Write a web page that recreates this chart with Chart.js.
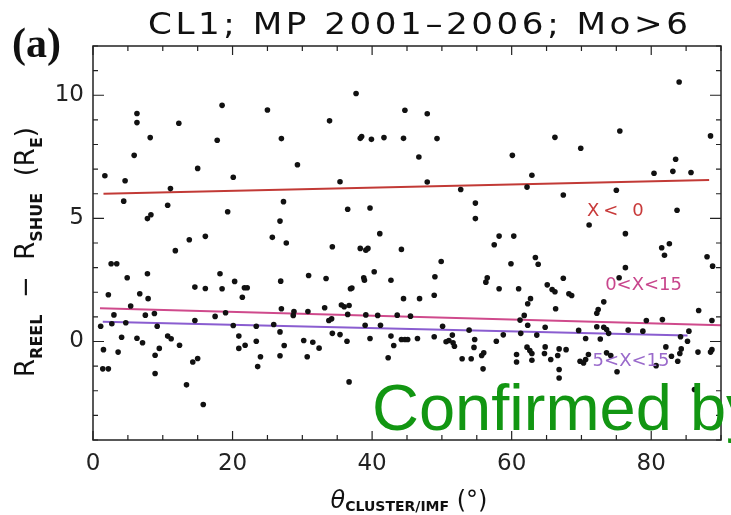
<!DOCTYPE html>
<html>
<head>
<meta charset="utf-8">
<script src="https://cdn.jsdelivr.net/npm/chart.js@4.4.1/dist/chart.umd.min.js"></script>
<style>
  html, body { margin: 0; padding: 0; background: #fff; }
  canvas { display: block; }
</style>
</head>
<body>
<canvas id="grafico" width="731" height="515"></canvas>
<script>
// Ángulo theta (grados) de cada cruce de magnetopausa
const obsTheta = [
  18.5, 6.3, 6.3, 12.3, 8.2, 17.8, 5.9, 15.0, 1.7, 4.6,
  11.1, 4.4, 10.7, 8.3, 7.8, 16.1, 13.8, 11.8, 2.6, 3.4,
  4.9, 7.8, 18.2, 14.6, 16.1, 18.5, 2.2, 6.7, 7.9, 5.4,
  3.0, 7.5, 8.8, 17.5, 1.1, 2.7, 4.7, 9.2, 14.6, 4.1,
  6.3, 7.1, 10.7, 11.2, 12.4, 1.5, 3.6, 9.5, 8.9, 1.4,
  2.2, 8.9, 14.3, 15.0, 13.4, 15.8,
  20.3, 21.4, 21.7, 22.1, 20.9, 20.9, 21.8, 20.1, 19.0,
  25.0, 33.9, 27.0, 29.3, 20.1, 35.4, 27.3, 19.3, 36.5, 26.8, 25.7, 27.7, 34.3,
  26.9, 30.9, 33.4, 36.9, 37.1, 27.0, 28.8, 30.8, 33.2, 35.6,
  36.0, 36.7, 28.7, 33.8, 34.2, 36.5, 23.4, 25.9, 26.8, 34.3,
  35.4, 23.4, 30.2, 31.5, 36.4, 27.4, 32.4, 24.0, 26.8, 30.7,
  23.6, 36.7,
  37.7, 44.7, 47.9, 38.3, 38.5, 39.9, 41.7, 44.5, 49.3, 46.7,
  47.9, 52.7, 39.7, 54.8, 54.8, 41.1, 38.3, 39.1, 39.4, 44.2,
  49.9, 40.3, 38.8, 38.9, 42.7, 49.0, 44.5, 46.8, 48.9, 39.1,
  40.8, 43.6, 45.5, 39.0, 41.2, 50.1, 39.7, 42.7, 43.1, 44.2,
  44.7, 45.1, 46.5, 48.9, 50.6, 51.0, 51.5, 51.6, 51.8, 42.3,
  52.9, 54.2, 53.9, 54.7, 54.6,
  66.2, 60.1, 69.9, 62.9, 62.2, 67.4, 71.1, 58.2, 57.5, 60.3,
  63.4, 59.9, 63.8, 56.5, 56.3, 58.2, 61.0, 67.4, 65.1, 65.8,
  66.2, 68.2, 68.6, 62.7, 62.3, 73.2, 72.4, 72.2, 61.8, 61.2,
  66.3, 62.3, 64.8, 63.6, 58.8, 69.6, 72.2, 73.2, 73.6, 73.9,
  61.3, 57.8, 56.0, 55.7, 55.9, 60.7, 60.7, 62.2, 62.6, 62.9,
  62.9, 64.8, 64.7, 65.6, 66.8, 66.6, 67.8, 66.8, 66.8, 70.6,
  71.0, 70.6, 70.3, 69.8, 72.7,
  84.0, 75.5, 88.5, 83.5, 80.4, 83.1, 85.7, 75.0, 83.7, 76.3,
  81.5, 82.6, 81.9, 88.0, 88.8, 76.3, 75.4, 86.8, 79.3, 81.6,
  88.7, 76.7, 78.8, 84.2, 85.4, 85.2, 82.1, 84.3, 84.1, 83.8,
  82.9, 86.7, 88.7, 88.5, 73.6, 74.2, 75.1, 80.7, 86.2
];

// R_REEL - R_SHUE (en radios terrestres), mismo orden que obsTheta
const obsDelta = [
  9.59, 9.26, 8.89, 8.86, 8.28, 8.17, 7.56, 7.03, 6.73, 6.53,
  6.21, 5.70, 5.53, 5.15, 4.99, 4.27, 4.13, 3.69, 3.16, 3.16,
  2.59, 2.75, 2.75, 2.21, 2.15, 2.14, 1.90, 1.94, 1.74, 1.44,
  1.08, 1.07, 1.14, 1.02, 0.62, 0.72, 0.76, 0.62, 0.85, 0.17,
  0.13, -0.05, 0.22, 0.11, -0.15, -0.33, -0.43, -0.28, -0.56, -1.11,
  -1.11, -1.30, -0.83, -0.69, -1.76, -2.56,
  2.44, 1.80, 2.18, 2.18, 0.22, -0.28, -0.15, 0.65, 1.17,
  9.40, 8.96, 8.24, 7.18, 6.67, 6.49, 5.68, 5.27, 5.37, 4.89, 4.23, 4.00, 3.85,
  2.45, 2.68, 2.56, 2.14, 2.17, 1.33, 1.22, 1.22, 1.37, 1.48,
  1.41, 1.46, 1.06, 0.85, 0.92, 1.10, 0.62, 0.69, 0.39, 0.33,
  0.28, 0.01, 0.04, -0.03, 0.01, -0.16, -0.27, -0.62, -0.58, -0.62,
  -1.02, -1.64,
  10.07, 9.39, 9.25, 8.25, 8.32, 8.21, 8.28, 8.25, 8.24, 7.49,
  6.48, 6.17, 5.42, 5.62, 4.99, 4.38, 3.78, 3.71, 3.78, 3.74,
  3.25, 2.83, 2.59, 2.49, 2.49, 2.63, 1.74, 1.74, 1.88, 1.08,
  1.06, 1.07, 1.03, 0.66, 0.66, 0.62, 0.12, 0.22, -0.16, 0.08,
  0.08, 0.08, 0.12, 0.19, -0.01, 0.04, 0.26, -0.05, -0.19, -0.66,
  -0.70, -0.70, 0.46, 0.08, -0.24,
  8.29, 7.56, 7.85, 6.75, 6.27, 5.95, 4.73, 4.28, 3.93, 4.28,
  3.41, 3.16, 3.14, 2.59, 2.41, 2.14, 2.14, 2.57, 2.30, 2.11,
  2.02, 1.94, 1.87, 1.74, 1.53, 1.61, 1.30, 1.15, 1.06, 0.87,
  1.33, 0.66, 0.58, 0.26, 0.27, 0.45, 0.60, 0.58, 0.49, 0.33,
  0.33, 0.01, -0.46, -0.57, -1.11, -0.53, -0.83, -0.23, -0.37, -0.49,
  -0.76, -0.22, -0.49, -0.73, -0.30, -0.57, -0.33, -1.14, -1.48, 0.12,
  -0.53, -0.73, -0.87, -0.80, 0.10,
  10.54, 8.55, 8.35, 7.40, 6.83, 6.91, 6.86, 6.14, 5.33, 4.38,
  3.81, 3.97, 3.50, 3.44, 3.06, 3.00, 2.59, 1.26, 0.85, 0.89,
  0.85, 0.46, 0.42, 0.19, 0.42, 0.01, -0.22, -0.30, -0.49, -0.80,
  -0.60, -0.43, -0.33, -0.43, -0.46, -0.57, -1.23, -0.98, -1.95
];

// Rectas de ajuste (extremos) para cada rango de X
const ajusteNegTheta = [1.5, 88.3];
const ajusteNegDelta = [6.00, 6.56];
const ajuste0a15Theta = [1.0, 90.0];
const ajuste0a15Delta = [1.35, 0.66];
const ajuste5a15Theta = [1.4, 85.2];
const ajuste5a15Delta = [0.80, 0.24];

// Etiquetas de las rectas (texto y punto de anclaje en coordenadas de datos)
const etiquetasTexto = ['X< 0', '0<X<15', '5<X<15'];
const etiquetasTheta = [70.8, 73.4, 71.6];
const etiquetasDelta = [5.28, 2.28, -0.81];

const colores = ['#c23a36', '#cf4a8c', '#8a5dd0'];
const coloresTexto = ['#c83a3a', '#c8468c', '#9a6acb'];

const puntos = obsTheta.map((t, i) => ({ x: t, y: obsDelta[i] }));
const recta = (xs, ys) => xs.map((t, i) => ({ x: t, y: ys[i] }));

// Dibuja un texto con partes de distinto tamaño (subíndices)
function textoCompuesto(ctx, partes, x, y) {
  let ancho = 0;
  partes.forEach(p => { ctx.font = p.f; ancho += ctx.measureText(p.t).width; });
  let cx = x - ancho / 2;
  partes.forEach(p => {
    ctx.font = p.f;
    ctx.fillText(p.t, cx, y + (p.dy || 0));
    cx += ctx.measureText(p.t).width;
  });
}

const marcoYTextos = {
  id: 'marcoYTextos',
  afterDraw(chart) {
    const ctx = chart.ctx, a = chart.chartArea;
    const sx = chart.scales.x, sy = chart.scales.y;
    ctx.save();

    // marco completo
    ctx.strokeStyle = '#222';
    ctx.lineWidth = 1.5;
    ctx.strokeRect(a.left, a.top, a.right - a.left, a.bottom - a.top);

    // marcas hacia adentro en los cuatro lados
    ctx.lineWidth = 1.2;
    ctx.beginPath();
    sx.ticks.forEach(t => {
      const px = sx.getPixelForValue(t.value);
      const l = t.value % 20 === 0 ? 9 : 5;
      ctx.moveTo(px, a.bottom); ctx.lineTo(px, a.bottom - l);
      ctx.moveTo(px, a.top); ctx.lineTo(px, a.top + l);
    });
    sy.ticks.forEach(t => {
      const py = sy.getPixelForValue(t.value);
      const l = t.value % 5 === 0 ? 11 : 5;
      ctx.moveTo(a.left, py); ctx.lineTo(a.left + l, py);
      ctx.moveTo(a.right, py); ctx.lineTo(a.right - l, py);
    });
    ctx.stroke();

    // etiquetas de las rectas
    ctx.textAlign = 'left';
    ctx.textBaseline = 'middle';
    ctx.font = '18px "DejaVu Sans"';
    etiquetasTexto.forEach((txt, i) => {
      ctx.fillStyle = coloresTexto[i];
      ctx.letterSpacing = i === 0 ? '4px' : '0px';
      ctx.fillText(txt, sx.getPixelForValue(etiquetasTheta[i]), sy.getPixelForValue(etiquetasDelta[i]));
    });
    ctx.letterSpacing = '0px';

    // título (letra algo ensanchada, como en el original)
    ctx.fillStyle = '#111';
    ctx.textBaseline = 'alphabetic';
    const titulo = 'CL1; MP 2001–2006; Mo>6';
    ctx.font = '30px "DejaVu Sans"';
    const estirar = 1.14;
    const w0 = ctx.measureText(titulo).width * estirar;
    ctx.save();
    ctx.translate(148, 34);
    ctx.scale(estirar, 1);
    ctx.letterSpacing = ((540 - w0) / estirar / (titulo.length - 1)).toFixed(2) + 'px';
    ctx.fillText(titulo, 0, 0);
    ctx.restore();
    ctx.letterSpacing = '0px';

    // (a)
    ctx.font = 'bold 42px "Liberation Serif"';
    ctx.fillText('(a)', 12, 57);

    // título del eje x
    const sub = 'bold 14px "DejaVu Sans"';
    textoCompuesto(ctx, [
      { t: 'θ', f: 'italic 24px "DejaVu Sans"' },
      { t: 'CLUSTER/IMF', f: sub, dy: 3 },
      { t: ' (°)', f: '24px "DejaVu Sans"' }
    ], (a.left + a.right) / 2 + 2, 508);

    // título del eje y (rotado)
    ctx.save();
    ctx.translate(34, 252);
    ctx.rotate(-Math.PI / 2);
    const big = '26px "DejaVu Sans"', peq = 'bold 16px "DejaVu Sans"';
    textoCompuesto(ctx, [
      { t: 'R', f: big }, { t: 'REEL', f: peq, dy: 8 },
      { t: '  −  ', f: big },
      { t: 'R', f: big }, { t: 'SHUE', f: peq, dy: 8 },
      { t: '  (R', f: big }, { t: 'E', f: peq, dy: 8 }, { t: ')', f: big }
    ], 0, 0);
    ctx.restore();

    // sello superpuesto
    ctx.fillStyle = '#129612';
    ctx.font = '65px "Liberation Sans"';
    ctx.fillText('Confirmed by', 372, 430);

    ctx.restore();
  }
};

const ctx = document.getElementById('grafico').getContext('2d');
window.chart = new Chart(ctx, {
  type: 'scatter',
  data: {
    datasets: [
      { data: puntos, pointRadius: 2.8, pointBackgroundColor: '#111', pointBorderWidth: 0, order: 0 },
      { type: 'line', data: recta(ajusteNegTheta, ajusteNegDelta), borderColor: colores[0], borderWidth: 2, pointRadius: 0, fill: false, order: 1 },
      { type: 'line', data: recta(ajuste0a15Theta, ajuste0a15Delta), borderColor: colores[1], borderWidth: 2, pointRadius: 0, fill: false, order: 2 },
      { type: 'line', data: recta(ajuste5a15Theta, ajuste5a15Delta), borderColor: colores[2], borderWidth: 2, pointRadius: 0, fill: false, order: 3 }
    ]
  },
  options: {
    responsive: false,
    animation: false,
    devicePixelRatio: 1,
    layout: { padding: { top: 46, right: 1, left: 0, bottom: 0 } },
    plugins: { legend: { display: false }, tooltip: { enabled: false } },
    scales: {
      x: {
        type: 'linear', min: 0, max: 90,
        grid: { display: false, drawTicks: false },
        border: { display: false },
        ticks: {
          stepSize: 5, autoSkip: false, maxRotation: 0, padding: 10, color: '#222',
          font: { family: 'DejaVu Sans', size: 23 },
          callback: v => (v % 20 === 0 ? String(v) : '')
        },
        afterFit(scale) { scale.height = 75; }
      },
      y: {
        type: 'linear', min: -4, max: 12,
        grid: { display: false, drawTicks: false },
        border: { display: false },
        ticks: {
          stepSize: 1, autoSkip: false, padding: 9, color: '#222',
          font: { family: 'DejaVu Sans', size: 23 },
          callback: v => (v % 5 === 0 && v >= 0 ? String(v) : '')
        },
        afterFit(scale) { scale.width = 93; }
      }
    }
  },
  plugins: [marcoYTextos]
});
</script>
</body>
</html>
